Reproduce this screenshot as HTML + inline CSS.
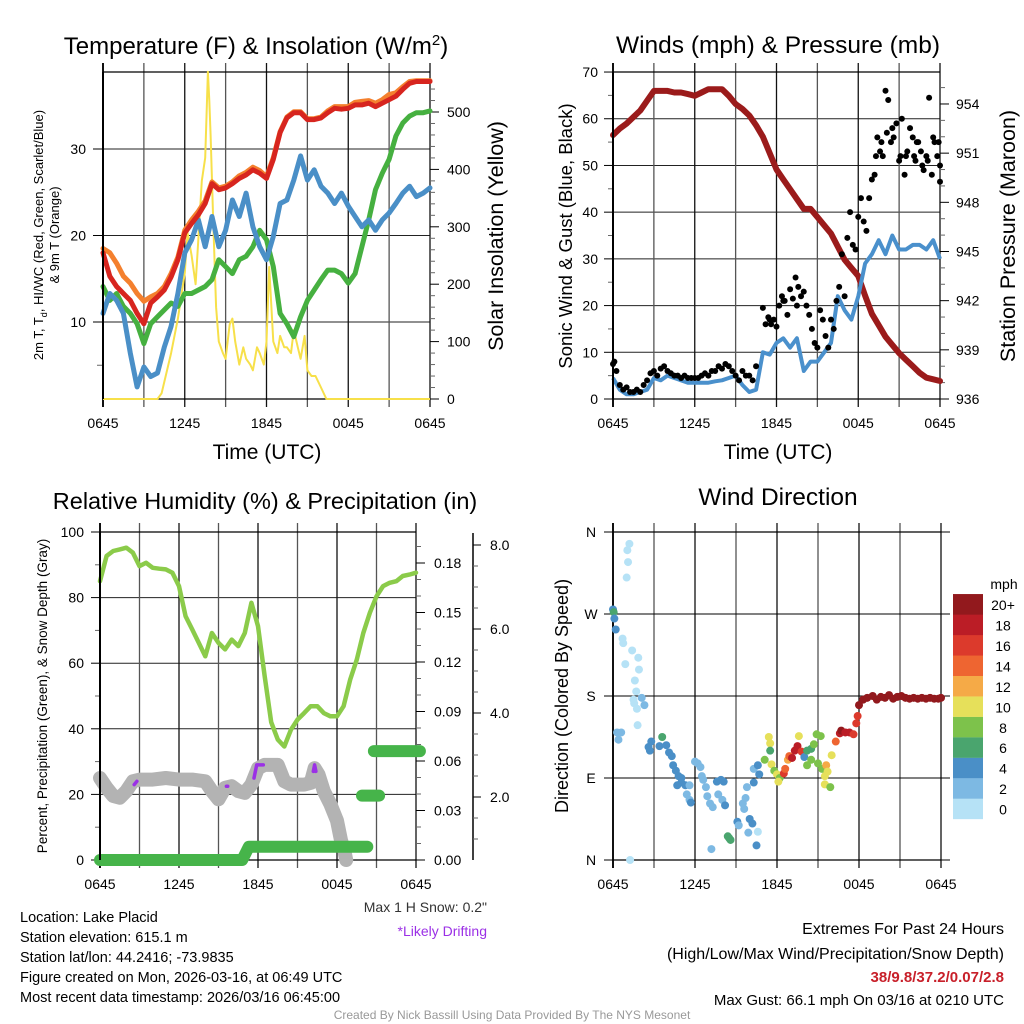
<!DOCTYPE html>
<html><head><meta charset="utf-8"><style>
html,body{margin:0;padding:0;background:#fff;}
svg{display:block;font-family:"Liberation Sans",Arial,sans-serif;}
</style></head><body>
<svg id="chart" width="1024" height="1024" viewBox="0 0 1024 1024" xmlns="http://www.w3.org/2000/svg">
<rect x="0" y="0" width="1024" height="1024" fill="#fff"/>
</svg>
<script>
// ---------- DATA ----------
const xTickLabels = ["0645","1245","1845","0045","0645"];
const halfHours = [0,0.5,1,1.5,2,2.5,3,3.5,4,4.5,5,5.5,6,6.5,7,7.5,8,8.5,9,9.5,10,10.5,11,11.5,12,12.5,13,13.5,14,14.5,15,15.5,16,16.5,17,17.5,18,18.5,19,19.5,20,20.5,21,21.5,22,22.5,23,23.5,24];
const temp2m = [18,15.3,14.1,13.3,12.5,11,9.8,12.2,12.9,13.7,15.2,17.2,20.3,21.4,22.4,23.7,26,25.3,25.5,26,26.6,27,27.6,27.2,26.6,28.8,31.9,33.6,34.2,34.2,33.4,33.4,33.6,34.2,34.7,34.6,34.7,35.1,35.1,35.3,34.9,35.3,35.7,36.1,36.9,37.6,37.8,37.8,37.8];
const temp9m = [18.5,18,16.8,15.3,14.5,13.3,12.4,12.9,13.3,14.1,15.6,17.5,20.6,21.8,22.8,24,26.2,25.5,25.7,26.2,26.9,27.3,27.9,27.5,26.8,29,32,33.7,34.3,34.3,33.5,33.5,33.7,34.4,34.9,34.9,34.9,35.4,35.5,35.6,35.3,35.7,36.3,36.5,37.2,37.8,37.9,37.9,37.9];
const dewpoint = [14.1,12.5,13.3,11.8,11,9.8,7.5,9.8,10.6,11.4,12.2,11.8,13.3,13.3,13.7,14.1,14.9,17.2,16.4,15.6,17.2,17.6,18.7,20.6,19.5,16.4,11,9.8,8.3,10.6,12.5,13.7,14.9,16,16,15.6,14.5,15.6,18.7,21.8,25.3,27.2,28.8,31.5,33,33.8,34.2,34.2,34.4];
const heatWindChill = [11,13.3,12.5,11,6.4,2.5,4.8,3.7,4.1,7.1,9.5,13.3,18,19.5,21.8,18.7,22.2,18.7,20.6,24.1,22.2,24.9,21,18.7,17.2,19.9,23.7,24.1,26.4,29.2,26.4,27.6,25.7,24.9,23.7,24.9,23.4,22.2,21,21.8,20.6,21.8,22.6,23.7,24.9,25.7,24.5,24.9,25.5];
const solarHours = [0,4,4.3,4.6,5,5.5,6,6.2,6.5,6.8,7,7.25,7.5,7.7,7.8,7.9,8.1,8.3,8.5,8.8,9,9.3,9.5,9.7,10,10.3,10.5,10.8,11,11.3,11.5,11.8,12,12.2,12.5,12.8,13,13.3,13.5,13.8,14,14.3,14.5,14.8,15,15.3,15.6,16,16.4,24];
const solarValues = [0,0,10,40,80,140,220,290,250,200,280,380,420,570,520,460,300,160,100,80,70,130,140,100,60,90,70,60,50,90,80,60,100,230,100,80,110,90,90,80,120,90,70,110,50,40,40,20,0,0];
const pressure = [952.1,952.5,952.8,953.2,953.6,954.2,954.8,954.8,954.8,954.7,954.7,954.6,954.5,954.7,954.9,954.9,954.9,954.5,954,953.7,953.3,952.7,952,951,950,949.4,948.8,948.2,947.6,947.6,947.1,946.6,946.1,945.3,944.5,944,943.5,942.3,941.2,940.5,939.8,939.3,938.8,938.4,938,937.6,937.3,937.2,937.1];
const windSpeed = [4.5,2,1,1,1.5,2,4.5,4,5,4.5,4,3.5,3.5,3.5,3.5,3.8,4,4.5,5,3,1.5,2,10,9.5,12,13,11,13,6,8,8,10,12,22,19,17,22,29,31,34,31,35,32,32,33,33,32,34,30];
const gustHours = [
0,0.1,0.25,0.5,0.75,1,1.25,1.5,1.75,2,2.25,2.5,2.75,3,3.25,3.5,3.75,4,4.25,4.5,4.75,5,5.25,5.5,5.75,6,6.25,6.5,6.75,7,7.25,7.5,7.75,8,8.25,8.5,8.75,9,9.25,9.5,9.75,10,10.25,10.5,
11,11.2,11.4,11.6,11.8,12,12.2,12.4,12.6,12.8,
13,13.2,13.4,13.6,13.8,14,14.2,14.4,14.6,14.8,
15,15.2,15.4,15.6,15.8,16,16.2,16.4,16.6,16.8,
17,17.2,17.4,17.6,17.8,18,18.2,18.4,18.6,18.8,
19,19.2,19.4,19.6,19.8,20,20.2,20.4,20.6,20.8,
21,21.2,21.4,21.6,21.8,22,22.2,22.4,22.6,22.8,
23,23.2,23.4,23.6,23.8,24,
11.5,12.5,13.5,19.3,19.7,20.5,21.5,22.1,22.7,23.5,23.9,24,20.1,21.1,22.3,23.1];
const gustValues = [
7.5,8,6,3,2,2.5,1.5,1.5,2,1.5,3,4,5.5,6,5,6.5,7,6,5.5,5,5,4.5,5,4.5,4.5,4.5,4.5,5,5.5,5,6,6,7,6.5,7.5,7,6,5,4,6,5,5,4,7,
19.5,16,17.5,16,17,15.5,20,22,21,18,
23.5,21.5,26,24,22,23,20,18,15,12,
11,19,17,13.5,11,17,15,21,24,31,
22,34.5,40,33,32,39,43,38,36,43,
47,48,56,53,52,66,64,55,56,59,
51,60,48,53,58,56,51,55,53,49,
52,64.5,48,55,52,50,
17,21,20,52,55,58,52,52,50,56,55,46.5,57,52,55,51];
const rh = [85,92.7,94.2,94.7,95.2,93.7,89.6,90.6,89.1,88.8,88.6,87.6,83.5,74.3,70.3,66.2,62.1,69.2,66.2,64.2,67.2,65.2,69.2,78.4,71.3,56.2,42,36.7,34.6,39.7,42.8,44.8,46.9,46.9,44.8,43.8,43.8,46.9,55,61.1,69.2,75.4,80.4,83.5,84.5,85,86.6,87,87.6];
const snowHours = [0,0.5,1,1.5,2,2.5,3,4,5,6,7,8,8.5,9,9.5,10,10.5,11,11.5,12,12.5,13,13.5,14,14.5,15,15.5,16,16.3,16.6,17,17.5,18,18.3,18.6,18.7];
const snowDepth = [25,22,19.5,19,21,24,24.5,24.5,25,24.5,24.5,24,21,18.5,22,22.5,21,20.5,23,28,29,29,29,24,23,23,23,23.5,28,26,21,17,12,6,2,0];
const precipHours = [0,10.8,11.3,20.3,null,19.9,21.2,null,20.8,24.3];
const precipValues = [0,0,0.008,0.008,null,0.039,0.039,null,0.066,0.066];
const driftHours = [[2.6,2.8],[9.6,9.7],[11.7,11.9,12.4],[16.2,16.3,16.4]];
const driftValues = [[23,24],[22.5,22.5],[25,29,29],[27,29,27]];
const dirHours = [0,0.05,0.1,0.2,1.0,1.1,1.05,1.2,0.7,0.75,0.9,1.4,1.85,1.9,1.6,1.7,1.5,1.55,1.75,2.1,2.3,1.8,0.3,0.4,0.6,2.8,2.6,2.7,3.6,3.4,3.9,4.1,4.3,4.4,4.6,4.8,5,5.0,4.7,5.3,5.6,5.4,5.6,5.7,6,6.2,6.4,6.5,6.6,6.8,6.9,7.1,7.3,7.6,7.9,8.1,7.7,8.0,8.2,7.2,8.4,8.5,8.6,9.1,9.2,9.6,9.8,9.5,9.7,9.9,10,10.2,10.5,10.6,1.25,10.3,10.6,10.7,10.3,11.4,11.5,11.5,11.1,11.6,11.8,12,12.2,12.1,12.5,12.6,12.8,12.9,13.1,13.3,13.5,13.6,13.8,14,14.2,14.5,14.2,14.5,14.7,14.9,15.2,15,15.3,15.6,15.7,15.5,15.5,16,15.9,16.3,16.6,16.7,17,17.3,17.6,17.8,17.9,18,18.3,18.6,19,19.3,19.6,19.9,20.2,20.5,20.8,21.1,21.4,21.7,22,22.3,22.6,22.9,23.2,23.5,23.8,24];
const dirDegrees = [275,272,265,253,310,327,340,347,243,238,215,230,222,209,197,185,176,172,166,178,170,148,140,132,140,130,124,120,135,125,126,118,114,104,98,92,90,85,82,82,82,72,66,63,108,106,102,92,88,80,70,62,58,86,88,86,72,66,60,12,26,24,22,42,38,56,80,62,68,30,45,40,16,31,0,100,104,94,85,135,128,120,110,105,98,94,90,86,95,100,110,114,112,120,125,136,119,113,120,122,104,110,127,138,136,106,100,104,97,92,83,115,80,130,139,142,140,140,138,150,158,170,176,178,180,176,179,178,181,177,179,180,178,177,178,177,178,177,178,177,177,178];
const dirSpeeds = [4,6,4,4,0,1,0,0,1,1,1,1,1,1,1,1,1,1,1,3,3,1,2,2,2,4,4,4,6,4,4,4,4,4,4,4,4,4,4,4,2,2,2,4,2,2,2,2,2,2,2,2,2,4,4,4,2,2,4,2,6,6,6,4,2,2,2,2,2,2,4,4,4,0,1,2,4,4,4,10,10,6,8,10,8,10,8,10,16,14,12,14,18,18,18,10,16,4,6,6,8,8,8,8,8,8,8,12,10,10,10,10,8,14,18,20,18,18,16,16,16,20,20,20,20,20,20,20,20,20,20,20,20,20,20,20,20,20,20,20,20,20];
const speedLabels = ["0","2","4","6","8","10","12","14","16","18","20+"];
const speedColors = ["#b6e2f6","#7db9e3","#4a8fc7","#4aa56e","#7dc24b","#e6e05a","#f5aa47","#ee6531","#dc3a2c","#bb1d26","#92191d"];

// ---------- HELPERS ----------
const svg = document.getElementById('chart');
const NS = "http://www.w3.org/2000/svg";
function mk(tag, attrs, parent){
  const e = document.createElementNS(NS, tag);
  for (const k in attrs) e.setAttribute(k, attrs[k]);
  (parent||svg).appendChild(e);
  return e;
}
function txt(s, x, y, size, anchor, parent, extra){
  const e = mk('text', Object.assign({x:x, y:y, 'font-size':size, 'text-anchor':anchor||'middle', fill:'#000'}, extra||{}), parent);
  e.textContent = s;
  return e;
}
function pathFrom(hs, vs, X, Y){
  let d = '', pen = false;
  for (let i=0;i<hs.length;i++){
    if (hs[i]===null || vs[i]===null || vs[i]===undefined){ pen=false; continue; }
    d += (pen?'L':'M') + X(hs[i]).toFixed(1) + ',' + Y(vs[i]).toFixed(1);
    pen = true;
  }
  return d;
}
function frame(P, g, vLines, hVals, Yf){
  hVals.forEach(v=>{
    const l = mk('line',{x1:P.x0,x2:P.x1,y1:Yf(v),y2:Yf(v),stroke:'#222','stroke-width':1},g);
    
    
  });
  for (let i=0;i<=8;i++){
    const x = P.x0 + i*(P.x1-P.x0)/8;
    const l = mk('line',{x1:x,x2:x,y1:P.y0-9,y2:P.y1+8,stroke:(i%2? '#555':'#111'),'stroke-width':(i===0?2:1.3)},g);
    
    
  }
  const bx = mk('line',{x1:P.x0,x2:P.x1,y1:P.y0,y2:P.y0,stroke:'#000','stroke-width':1.2},g);
  
  
  const bb = mk('line',{x1:P.x0,x2:P.x1,y1:P.y1,y2:P.y1,stroke:'#000','stroke-width':1.2},g);
  
  
  xTickLabels.forEach((s,i)=>{
    const t = txt(s, P.x0 + i*(P.x1-P.x0)/4, P.y1+29, 14, 'middle', g);
    
    
  });
}
function yLabels(vals, labels, Yf, x, anchor, g, tickX1, tickX2){
  vals.forEach((v,i)=>{
    const t = txt(labels[i], x, Yf(v)+5, 14, anchor, g);
    
    
    const tk = mk('line',{x1:tickX1,x2:tickX2,y1:Yf(v),y2:Yf(v),stroke:'#000','stroke-width':1},g);
    
    
  });
}
function minorTicks(vals, Yf, x1, x2, g){
  vals.forEach(v=>{
    const tk = mk('line',{x1:x1,x2:x2,y1:Yf(v),y2:Yf(v),stroke:'#666','stroke-width':1},g);
    
    
  });
}
function rotText(s, x, y, size, g){
  return txt(s, 0, 0, size, 'middle', g, {transform:'translate('+x+','+y+') rotate(-90)'});
}

// ---------- PANEL 1: TEMPERATURE ----------
const P1 = {x0:103,x1:430,y0:72,y1:399};
const X1 = h => P1.x0 + h*(P1.x1-P1.x0)/24;
const YT = t => 322 - (t-10)*8.65;
const YS = s => 399 - s*0.574;
const g1 = mk('g',{});


frame(P1, g1, 8, [10,20,30], YT);
yLabels([10,20,30],["10","20","30"],YT,86,'end',g1,P1.x0-10,P1.x0);
minorTicks([5],YT,P1.x0-6,P1.x0,g1);
yLabels([0,100,200,300,400,500],["0","100","200","300","400","500"],YS,447,'start',g1,P1.x1,P1.x1+9);
minorTicks([20,40,60,80,120,140,160,180,220,240,260,280,320,340,360,380,420,440,460,480,520,540],YS,P1.x1,P1.x1+5,g1);
const tl1 = txt('Temperature (F) & Insolation (W/m',256,54,24,'middle',g1);


const sup = document.createElementNS(NS,'tspan'); sup.setAttribute('dy','-9'); sup.setAttribute('font-size','15'); sup.textContent='2'; tl1.appendChild(sup);
const sup2 = document.createElementNS(NS,'tspan'); sup2.setAttribute('dy','9'); sup2.textContent=')'; tl1.appendChild(sup2);
const yl1a = rotText('',43,235,13,g1);


[['2m T, T',0],['d',4],[', HI/WC (Red, Green, Scarlet/Blue)',-4]].forEach(p=>{
  const ts = document.createElementNS(NS,'tspan');
  ts.setAttribute('dy',p[1]);
  if (p[0]==='d') ts.setAttribute('font-size','9');
  ts.textContent = p[0];
  yl1a.appendChild(ts);
});
const yl1b = rotText('& 9m T (Orange)',59,235,13,g1);


const yr1 = rotText('Solar Insolation (Yellow)',503,236,21.5,g1);


const xt1 = txt('Time (UTC)',267,459,21,'middle',g1);


const solar = mk('path',{d:pathFrom(solarHours,solarValues,X1,YS),fill:'none',stroke:'#f7e04a','stroke-width':2,'stroke-linejoin':'round'},g1);


[[dewpoint,'#46b040','dewpoint-line'],[heatWindChill,'#4a8fc7','heat-index-wind-chill-line'],[temp9m,'#f4802e','temp-9m-line'],[temp2m,'#d7251f','temp-2m-line']].forEach(s=>{
  const p = mk('path',{d:pathFrom(halfHours,s[0],X1,YT),fill:'none',stroke:s[1],'stroke-width':5,'stroke-linejoin':'round','stroke-linecap':'round'},g1);
  
  
});
const lb1 = mk('line',{x1:P1.x0,x2:P1.x0,y1:P1.y0,y2:P1.y1,stroke:'#000','stroke-width':2},g1);



// ---------- PANEL 2: WINDS ----------
const P2 = {x0:613,x1:940,y0:72,y1:399};
const X2 = h => P2.x0 + h*(P2.x1-P2.x0)/24;
const YW = w => 399 - w*4.671;
const YP = p => 399 - (p-936)*16.39;
const g2 = mk('g',{});


frame(P2, g2, 8, [10,20,30,40,50,60], YW);
yLabels([0,10,20,30,40,50,60,70],["0","10","20","30","40","50","60","70"],YW,598,'end',g2,P2.x0-9,P2.x0);
minorTicks([5,15,25,35,45,55,65],YW,P2.x0-5,P2.x0,g2);
yLabels([936,939,942,945,948,951,954],["936","939","942","945","948","951","954"],YP,956,'start',g2,P2.x1,P2.x1+9);
minorTicks([937,938,940,941,943,944,946,947,949,950,952,953,955],YP,P2.x1,P2.x1+5,g2);
const tl2 = txt('Winds (mph) & Pressure (mb)',778,53,24.5,'middle',g2);


const yl2 = rotText('Sonic Wind & Gust (Blue, Black)',572,236,18.5,g2);


const yr2 = rotText('Station Pressure (Maroon)',1015,236,21.5,g2);


const xt2 = txt('Time (UTC)',778,459,21,'middle',g2);


const pl = mk('path',{d:pathFrom(halfHours,pressure,X2,YP),fill:'none',stroke:'#9b1b1b','stroke-width':6,'stroke-linejoin':'round','stroke-linecap':'round'},g2);


const wl = mk('path',{d:pathFrom(halfHours,windSpeed,X2,YW),fill:'none',stroke:'#4a90cc','stroke-width':4,'stroke-linejoin':'round'},g2);


gustHours.forEach((h,i)=>{
  const v = gustValues[i];
  if (typeof v !== 'number' || typeof h !== 'number') return;
  const cy = YW(v), cx = X2(h);
  if (!isFinite(cy) || !isFinite(cx) || cy < P2.y0 - 2 || cy > P2.y1 + 2) return;
  const c = mk('circle',{cx:cx,cy:cy,r:3,fill:'#000'},g2);
  
  
});
const lb2 = mk('line',{x1:P2.x0,x2:P2.x0,y1:P2.y0,y2:P2.y1,stroke:'#000','stroke-width':2},g2);



// ---------- PANEL 3: RH ----------
const P3 = {x0:100,x1:416,y0:532,y1:860};
const X3 = h => P3.x0 + h*(P3.x1-P3.x0)/24;
const YR = r => 860 - r*3.28;
const YPR = p => 860 - p*1650;
const g3 = mk('g',{});


frame(P3, g3, 8, [20,40,60,80], YR);
yLabels([0,20,40,60,80,100],["0","20","40","60","80","100"],YR,84,'end',g3,P3.x0-9,P3.x0);
minorTicks([10,30,50,70,90],YR,P3.x0-5,P3.x0,g3);
yLabels([0,0.03,0.06,0.09,0.12,0.15,0.18],["0.00","0.03","0.06","0.09","0.12","0.15","0.18"],YPR,434,'start',g3,P3.x1,P3.x1+9);
minorTicks([0.01,0.02,0.04,0.05,0.07,0.08,0.1,0.11,0.13,0.14,0.16,0.17,0.19],YPR,P3.x1,P3.x1+5,g3);
const snowAxis = mk('line',{x1:473,x2:473,y1:533,y2:860,stroke:'#000','stroke-width':1.5},g3);


const YSN = s => 797 - (s-2)*42;
yLabels([2,4,6,8],["2.0","4.0","6.0","8.0"],YSN,490,'start',g3,473,481);
minorTicks([1,1.5,2.5,3,3.5,4.5,5,5.5,6.5,7,7.5],YSN,473,478,g3);
const tl3 = txt('Relative Humidity (%) & Precipitation (in)',265,509,23.5,'middle',g3);


const yl3 = rotText('Percent, Precipitation (Green), & Snow Depth (Gray)',47,696,13.5,g3);


const sl = mk('path',{d:pathFrom(snowHours,snowDepth,X3,YR),fill:'none',stroke:'#b3b3b3','stroke-width':14,'stroke-linejoin':'round','stroke-linecap':'round'},g3);


driftHours.forEach((hs,i)=>{
  const d = mk('path',{d:pathFrom(hs,driftValues[i],X3,YR),fill:'none',stroke:'#9b30e6','stroke-width':3.5,'stroke-linecap':'round','stroke-linejoin':'round'},g3);
  
  
});
const prl = mk('path',{d:pathFrom(precipHours,precipValues,X3,YPR),fill:'none',stroke:'#46b44a','stroke-width':12,'stroke-linecap':'round','stroke-linejoin':'round'},g3);


const rl = mk('path',{d:pathFrom(halfHours,rh,X3,YR),fill:'none',stroke:'#8bcb4a','stroke-width':4.5,'stroke-linejoin':'round','stroke-linecap':'round'},g3);


const lb3 = mk('line',{x1:P3.x0,x2:P3.x0,y1:P3.y0,y2:P3.y1,stroke:'#000','stroke-width':2},g3);



// ---------- PANEL 4: WIND DIRECTION ----------
const P4 = {x0:613,x1:941,y0:532,y1:860};
const X4 = h => P4.x0 + h*(P4.x1-P4.x0)/24;
const YD = d => 860 - d*328/360;
const g4 = mk('g',{});


frame(P4, g4, 8, [90,180,270], YD);
yLabels([0,90,180,270,360],["N","E","S","W","N"],YD,591,'middle',g4,P4.x0-9,P4.x1+9);
const tl4 = txt('Wind Direction',778,505,24.5,'middle',g4);


const yl4 = rotText('Direction (Colored By Speed)',568,696,18,g4);


dirHours.forEach((h,i)=>{
  const dg = dirDegrees[i];
  if (typeof dg !== 'number') return;
  const sp = typeof dirSpeeds[i] === 'number' ? dirSpeeds[i] : 20;
  const ci = Math.min(10, Math.floor(sp/2));
  const cy = YD(dg);
  if (!isFinite(cy) || cy < P4.y0 - 2) return;
  const c = mk('circle',{cx:X4(h),cy:cy,r:4,fill:speedColors[ci]},g4);
  
  
});
const cb = mk('g',{},g4);


speedColors.forEach((col,i)=>{
  const y = 819 - (i+1)*20.45;
  const r = mk('rect',{x:953,y:y,width:30,height:20.6,fill:col},cb);
  
  
  const t = txt(speedLabels[i],1003,y+16,14,'middle',cb);
  
  
});
const mph = txt('mph',1004,589,14,'middle',cb);



// ---------- FOOTER ----------
const foot = mk('g',{});


const leftLines = ["Location: Lake Placid","Station elevation: 615.1 m","Station lat/lon: 44.2416; -73.9835","Figure created on Mon, 2026-03-16, at 06:49 UTC","Most recent data timestamp: 2026/03/16 06:45:00"];
leftLines.forEach((s,i)=>{
  const t = txt(s,20,922+i*20,14.5,'start',foot);
  
  
});
const sn = txt('Max 1 H Snow: 0.2"',487,912,14,'end',foot,{fill:'#333'});


const dr = txt('*Likely Drifting',487,936,14,'end',foot,{fill:'#9b30e6'});


const e1 = txt('Extremes For Past 24 Hours',1004,934,16,'end',foot);


const e2 = txt('(High/Low/Max Wind/Precipitation/Snow Depth)',1004,959,16,'end',foot);


const e3 = txt('38/9.8/37.2/0.07/2.8',1004,982,15,'end',foot,{fill:'#c8202a','font-weight':'bold'});


const e4 = txt('Max Gust: 66.1 mph On 03/16 at 0210 UTC',1004,1005,15,'end',foot);


const cr = txt('Created By Nick Bassill Using Data Provided By The NYS Mesonet',512,1019,12,'middle',foot,{fill:'#999'});


</script>
</body></html>
